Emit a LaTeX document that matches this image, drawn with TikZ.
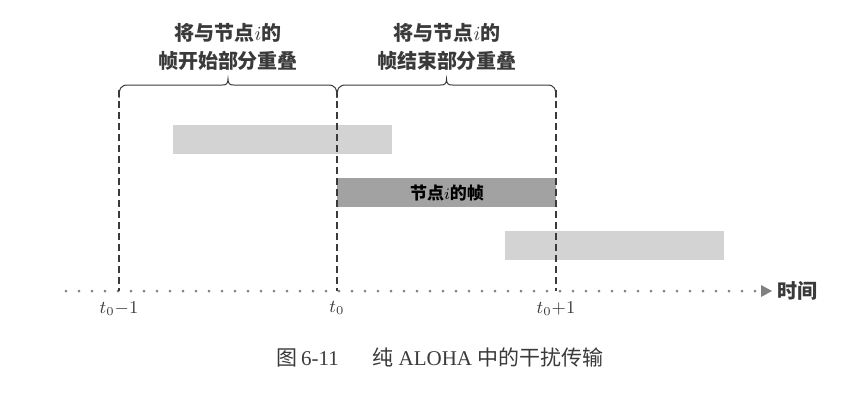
\documentclass[tikz,border=0pt]{standalone}
\usepackage{fontspec}
\newfontfamily\cjk{Noto Sans CJK SC}
\newfontfamily\timesrm{Liberation Serif}
\usetikzlibrary{arrows.meta}
\definecolor{lightbar}{HTML}{D3D3D3}
\definecolor{darkbar}{HTML}{A2A2A2}
\definecolor{inkgray}{HTML}{3A3A3A}

\begin{document}
\begin{tikzpicture}[x=0.5pt,y=-0.5pt,
  bar/.style={anchor=north west, minimum width=109.5pt, minimum height=14.5pt, inner sep=0pt},
  lbl/.style={font=\fontsize{10}{14}\selectfont\cjk\bfseries, align=center, text=inkgray},
  tick/.style={font=\fontsize{9}{10}\selectfont, text=inkgray, inner sep=1pt},
  guide/.style={inkgray, line width=0.6pt, dash pattern=on 3.5pt off 2pt}]
  \useasboundingbox (0,0) rectangle (864,402);

  % frames
  \node[bar, fill=lightbar] (early) at (173,125) {};
  \node[bar, fill=darkbar, font=\fontsize{8.5}{10}\selectfont\cjk\bfseries] (frame) at (337,178) {节点$i$的帧};
  \node[bar, fill=lightbar] (late) at (505,231) {};

  % time axis
  \coordinate (start) at (66,291);
  \node[font=\fontsize{10}{10}\selectfont\cjk\bfseries, anchor=west, text=inkgray, inner sep=1pt] (time) at (775,291) {时间};
  \draw[gray, line width=1.5pt, line cap=round, dash pattern=on 0pt off 6.5pt] (start) -- ([xshift=-6]time.west);
  \fill[gray] (time.west) ++(-14,-6) -- ++(11,6) -- ++(-11,6) -- cycle;

  % instants
  \foreach \x/\n/\t in {119/a/{$t_0{-}1$},337/b/{$t_0$},556/c/{$t_0{+}1$}} {
    \coordinate (top\n) at (\x,90);
    \coordinate (bot\n) at (\x,291);
    \draw[guide] (top\n) -- (bot\n);
    \node[tick, below=4pt] (t\n) at (bot\n) {\t};
  }

  % braces
  \foreach \a/\b in {119/337,337/556} {
    \draw[inkgray, line width=0.5pt]
      (\a,98) .. controls (\a,88) and (\a+2,85) .. (\a+9,85)
      -- ({(\a+\b)/2-6},85) .. controls ({(\a+\b)/2-2},85) and ({(\a+\b)/2},84) .. ({(\a+\b)/2},79)
      .. controls ({(\a+\b)/2},84) and ({(\a+\b)/2+2},85) .. ({(\a+\b)/2+6},85)
      -- (\b-9,85) .. controls (\b-2,85) and (\b,88) .. (\b,98);
  }
  \node[lbl] (begin) at (228,47) {将与节点$i$的\\帧开始部分重叠};
  \node[lbl] (end) at (447,47) {将与节点$i$的\\帧结束部分重叠};

  \node[font=\fontsize{10.5}{10}\selectfont\timesrm, text=inkgray] (caption) at (440,357) {{\cjk 图}\,6-11\hspace{1.6em}{\cjk 纯} ALOHA {\cjk 中的干扰传输}};
\end{tikzpicture}
\end{document}
